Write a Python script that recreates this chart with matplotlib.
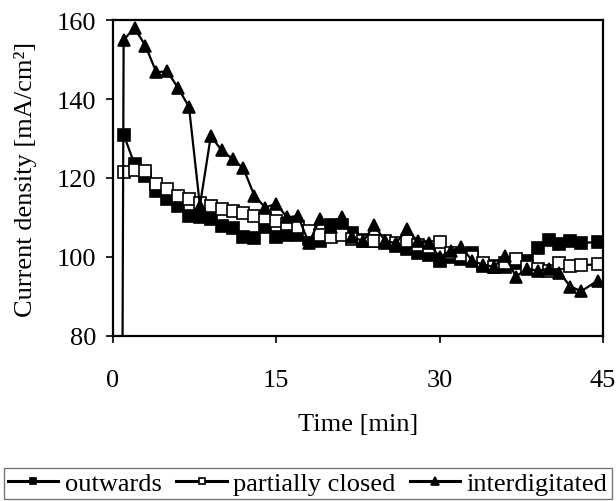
import matplotlib
matplotlib.use("Agg")
import matplotlib.pyplot as plt

# ── data ──────────────────────────────────────────────────────────────────────
time_min = [1, 2, 3, 4, 5, 6, 7, 8, 9, 10, 11, 12, 13, 14, 15, 16, 17, 18, 19, 20,
            21, 22, 23, 24, 25, 26, 27, 28, 29, 30, 31, 32, 33, 34, 35, 36, 37, 38,
            39, 40, 41, 42, 43, 44.5]

outwards = [131, 123.5, 120.5, 116.7, 114.6, 112.9, 110.4, 110, 109.5, 107.8,
            107.2, 105.1, 104.9, 107.5, 105, 105.5, 105.5, 104.5, 104, 108,
            108, 106, 104.4, 104, 103.5, 102.7, 102, 101, 100.5, 99,
            100, 99.5, 101, 97.6, 97.6, 97.5, 98.5, 99, 102.3, 104.4,
            103.3, 104, 103.6, 103.7]

partially_closed = [121.5, 122, 121.8, 118.5, 117.3, 115.4, 114.6, 113.7, 112.9, 112.2,
                    111.6, 111, 110.4, 109.8, 109, 108.3, 107.5, 106.5, 105.5, 105,
                    105.5, 104.5, 104, 104, 104, 103.5, 104, 103, 102.5, 103.7,
                    101, 100.5, 100, 98.5, 97.5, 98.5, 99.5, 97.5, 97, 96.4,
                    98.5, 97.6, 97.9, 98.1]

# interdigitated starts with a point far below the axis (line comes up from the bottom)
time_inter = [0.8] + time_min
interdigitated = [0, 155, 158, 153.5, 146.8, 147, 142.8, 138, 113, 130.6, 127,
                  124.8, 122.4, 115.5, 112.5, 113.5, 110, 110.4, 103.5, 109.5, 107.5,
                  110, 105, 104, 108, 104, 103.5, 107, 104, 103.5, 100,
                  101.5, 102.5, 99, 98, 97.5, 100.3, 95, 97, 96.5, 97,
                  96, 92.5, 91.3, 94]

x_ticks = [0, 15, 30, 45]
y_ticks = [80, 100, 120, 140, 160]

# ── style ─────────────────────────────────────────────────────────────────────
plt.rcParams["font.family"] = ["Liberation Serif", "DejaVu Serif"]
plt.rcParams["font.size"] = 19

fig = plt.figure(figsize=(6.16, 5.02), dpi=100)
ax = fig.add_axes([0.183, 0.329, 0.796, 0.629])

common = dict(color="black", lw=1.6, markeredgecolor="black", markeredgewidth=1.2)
ax.plot(time_min, outwards, marker="s", ms=8, markerfacecolor="black",
        label="outwards", **common)
ax.plot(time_min, partially_closed, marker="s", ms=8, markerfacecolor="white",
        label="partially closed", **common)
ax.plot(time_inter, interdigitated, marker="^", ms=9, markerfacecolor="black",
        label="interdigitated", **common)

ax.set_xlim(0, 45)
ax.set_ylim(80, 160)
ax.set_xticks(x_ticks)
ax.set_yticks(y_ticks)
ax.tick_params(direction="out", length=5, width=1.2, pad=7, labelsize=19)
ax.tick_params(axis="x", pad=19)
for sp in ax.spines.values():
    sp.set_linewidth(1.6)

ax.set_xlabel("Time [min]", fontsize=19, labelpad=16)
ax.set_ylabel("Current density [mA/cm²]", fontsize=19, labelpad=14)

leg = fig.legend(loc="lower center", bbox_to_anchor=(0.5, 0.004),
                 ncol=3, frameon=True, fancybox=False,
                 edgecolor="#555555", fontsize=19, handlelength=1.9,
                 handletextpad=0.25, columnspacing=0.55, borderpad=0.15,
                 borderaxespad=0.0, markerscale=0.6)
leg.get_frame().set_linewidth(1.0)
for h in leg.legend_handles:
    h.set_linewidth(2.2)

fig.savefig("out.png", dpi=100)
